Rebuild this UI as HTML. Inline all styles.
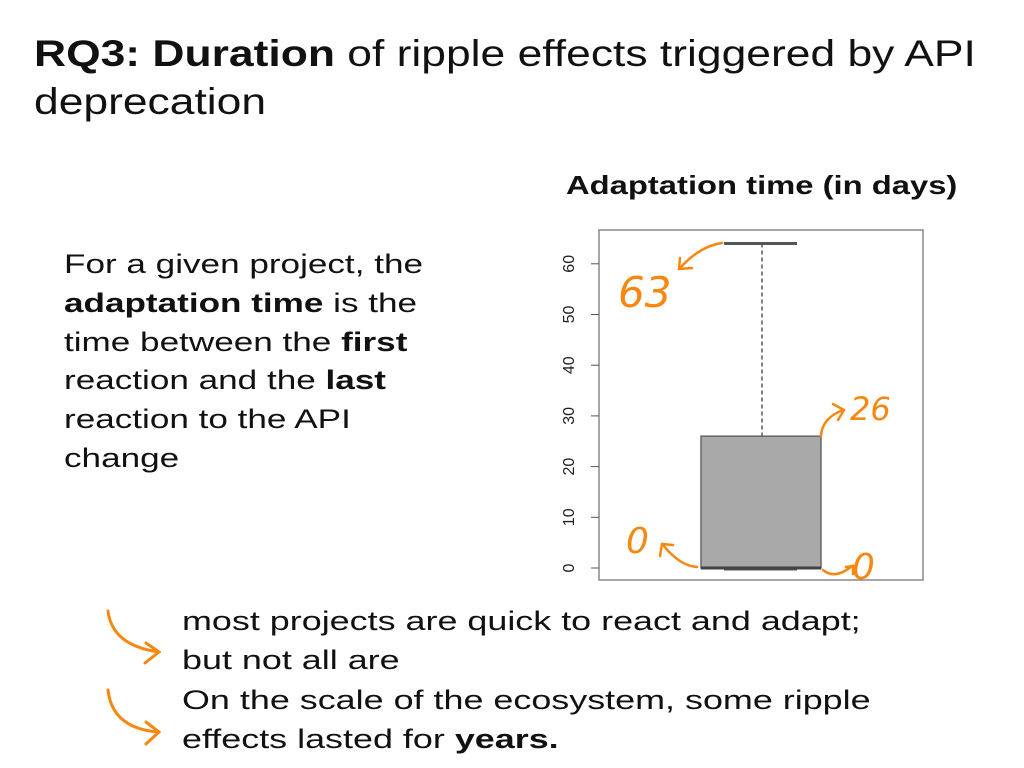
<!DOCTYPE html>
<html><head><meta charset="utf-8">
<style>
body{margin:0;width:1024px;height:768px;background:#fff;font-family:"Liberation Sans",sans-serif;color:#111;position:relative;overflow:hidden}
.t{position:absolute;white-space:nowrap;transform-origin:0 0}
</style></head><body>
<div class="t" style="left:34px;top:30px;font-size:37px;line-height:48px;transform:scaleX(1.2)">
<b>RQ3: Duration</b> of ripple effects triggered by API<br>deprecation</div>
<div class="t" style="left:566px;top:170px;font-size:26px;font-weight:bold;transform:scaleX(1.26)">Adaptation time (in days)</div>
<div class="t" style="left:64px;top:245px;font-size:27px;line-height:38.8px;transform:scaleX(1.3)">
For a given project, the<br><b>adaptation time</b> is the<br>time between the <b>first</b><br>reaction and the <b>last</b><br>reaction to the API<br>change</div>
<div class="t" style="left:182px;top:602px;font-size:27px;line-height:38.5px;transform:scaleX(1.33)">most projects are quick to react and adapt;<br>but not all are</div>
<div class="t" style="left:182px;top:681px;font-size:27px;line-height:38.5px;transform:scaleX(1.33)">On the scale of the ecosystem, some ripple<br>effects lasted for <b>years.</b></div>
<svg width="1024" height="768" style="position:absolute;left:0;top:0">
<g fill="none" stroke="#f7870f" stroke-width="3" stroke-linecap="round">
<path d="M108 611 Q112 645 158 652"/>
<path d="M146 643 L159 652 L145 663"/>
<path d="M108 690 Q112 728 158 732"/>
<path d="M146 722 L159 732 L146 744"/>
</g></svg>
<svg id="chart" width="1024" height="768" style="position:absolute;left:0;top:0"></svg>
<script>
const ticks=[0,10,20,30,40,50,60];
const stats=[0,0,0,26,64]; // min, q1, median, q3, max
const notes=["63","26","0","0"];
const ns="http://www.w3.org/2000/svg",svg=document.getElementById('chart');
const y=v=>568-v*5.07;
function el(t,a){const e=document.createElementNS(ns,t);for(const k in a)e.setAttribute(k,a[k]);svg.appendChild(e);return e;}
let r=el('rect',{x:599,y:230,width:324,height:350,fill:'none',stroke:'#888','stroke-width':1.5});


ticks.forEach(t=>{
 let l=el('line',{x1:591,x2:599,y1:y(t),y2:y(t),stroke:'#555'});
 
 
 let tx=el('text',{x:0,y:0,transform:`translate(574,${y(t)}) rotate(-90)`,'text-anchor':'middle','font-size':16,fill:'#222','font-family':'Liberation Sans'});
 tx.textContent=t;
 
 
});
let w=el('line',{x1:762,x2:762,y1:y(stats[4]),y2:y(stats[3]),stroke:'#555','stroke-width':1.5,'stroke-dasharray':'4,3'});


let c=el('line',{x1:724,x2:797,y1:y(stats[4]),y2:y(stats[4]),stroke:'#555','stroke-width':3});


let c2=el('line',{x1:724,x2:797,y1:y(stats[0])+1,y2:y(stats[0])+1,stroke:'#555','stroke-width':3});


let b=el('rect',{x:701,y:y(stats[3]),width:120,height:y(stats[1])-y(stats[3]),fill:'#a9a9a9',stroke:'#666','stroke-width':1.5});


let m=el('line',{x1:701,x2:821,y1:y(stats[2]),y2:y(stats[2]),stroke:'#444','stroke-width':3});


const ann=[[618,307,notes[0],42],[850,420,notes[1],32],[626,553,notes[2],36],[852,579,notes[3],36]];
ann.forEach(a=>{let t=el('text',{x:a[0],y:a[1],'font-size':a[3],fill:'#f7870f','font-family':'DejaVu Sans','font-style':'italic'});t.textContent=a[2];
 
 });
const paths=["M722 243 Q700 246 680 268","M680 258 L679 269 L692 268","M821 436 Q822 418 843 410","M833 404 L844 410 L838 420","M697 567 Q680 566 663 545","M660 556 L662 544 L673 545","M823 570 Q835 580 852 566","M846 567 L853 566 L853 574"];
paths.forEach(d=>{let p=el('path',{d:d,fill:'none',stroke:'#f7870f','stroke-width':2.5,'stroke-linecap':'round'});
 
 });
</script>
</body></html>
